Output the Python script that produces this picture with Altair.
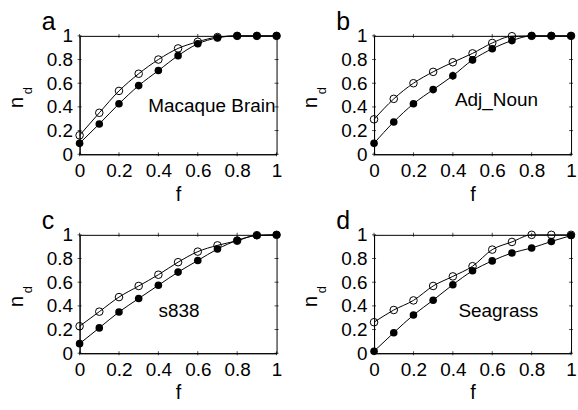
import altair as alt
import pandas as pd

F = [0.0, 0.1, 0.2, 0.3, 0.4, 0.5, 0.6, 0.7, 0.8, 0.9, 1.0]
TICKS = [0, 0.2, 0.4, 0.6, 0.8, 1]

a_open = [0.16, 0.35, 0.535, 0.68, 0.80, 0.894, 0.95, 0.99, 1, 1, 1]
a_filled = [0.092, 0.256, 0.426, 0.58, 0.707, 0.833, 0.933, 0.983, 1, 1, 1]
b_open = [0.295, 0.468, 0.60, 0.696, 0.777, 0.852, 0.94, 0.997, 1, 1, 1]
b_filled = [0.092, 0.273, 0.426, 0.546, 0.663, 0.797, 0.891, 0.96, 1, 1, 1]
b_filled_err = [0, 0, 0, 0, 0.035, 0.03, 0, 0, 0, 0, 0]
c_open = [0.228, 0.351, 0.474, 0.568, 0.663, 0.769, 0.858, 0.911, 0.95, 0.997, 1]
c_filled = [0.081, 0.214, 0.348, 0.462, 0.574, 0.685, 0.783, 0.88, 0.953, 0.994, 1]
d_open = [0.262, 0.365, 0.446, 0.568, 0.649, 0.735, 0.875, 0.94, 1.0, 1.0, 1.0]
d_filled = [0.017, 0.173, 0.323, 0.448, 0.579, 0.696, 0.78, 0.847, 0.889, 0.944, 0.994]

W, H = 198, 119
FONT = "Liberation Sans"
FS = 19

XS = alt.Scale(domain=[0, 1], nice=False, zero=False)
YS = alt.Scale(domain=[0, 1], nice=False, zero=False)
AX_X = alt.Axis(values=TICKS, format="~g", title="f", ticks=False, labelPadding=7, titlePadding=4,
                grid=False, labelOverlap=False, labelFlush=False)
AX_Y = alt.Axis(values=TICKS, format="~g", title="", ticks=False, labelPadding=7,
                grid=False, labelOverlap=False, labelFlush=False)


def X(field):
    return alt.X(field, type="quantitative", scale=XS, axis=AX_X, title="f")


def Y(field):
    return alt.Y(field, type="quantitative", scale=YS, axis=AX_Y, title="")


def text_layer(txt, x, y, size, angle=0, align="center", baseline="middle"):
    return alt.Chart(pd.DataFrame({"t": [txt]})).mark_text(
        font=FONT, fontSize=size, angle=angle, align=align, baseline=baseline, color="black"
    ).encode(text="t:N", x=alt.value(x), y=alt.value(y))


def panel(letter, label, open_vals, filled_vals, lx, ly, err=None):
    df = pd.DataFrame({
        "f": F * 2,
        "nd": list(open_vals) + list(filled_vals),
        "series": ["open"] * len(F) + ["filled"] * len(F),
    })
    base = alt.Chart(df)
    lines = base.mark_line(interpolate="monotone", color="black", strokeWidth=1).encode(
        x=X("f"), y=Y("nd"), detail="series:N")
    opn = base.transform_filter(alt.datum.series == "open").mark_point(
        shape="circle", filled=False, color="black", size=58, strokeWidth=1, opacity=1).encode(
        x=X("f"), y=Y("nd"))
    fil = base.transform_filter(alt.datum.series == "filled").mark_circle(
        color="black", size=58, opacity=1).encode(x=X("f"), y=Y("nd"))
    layers = [lines, opn, fil]
    if err is not None:
        edf = pd.DataFrame({"f": F, "lo": [v - e for v, e in zip(filled_vals, err)],
                            "hi": [v + e for v, e in zip(filled_vals, err)], "e": err})
        layers.append(alt.Chart(edf).transform_filter(alt.datum.e > 0).mark_rule(
            color="black", strokeWidth=1).encode(x=X("f"), y=Y("lo"), y2="hi:Q"))
    tdf = pd.DataFrame({"t": TICKS})
    layers += [
        alt.Chart(tdf).mark_tick(orient="vertical", size=4, thickness=1, color="black").encode(x=X("t"), y=alt.value(H)),
        alt.Chart(tdf).mark_tick(orient="vertical", size=4, thickness=1, color="black").encode(x=X("t"), y=alt.value(0)),
        alt.Chart(tdf).mark_tick(orient="horizontal", size=4, thickness=1, color="black").encode(y=Y("t"), x=alt.value(0)),
        alt.Chart(tdf).mark_tick(orient="horizontal", size=4, thickness=1, color="black").encode(y=Y("t"), x=alt.value(W)),
    ]
    layers += [
        text_layer("n", -63, 67, 20, angle=270),
        text_layer("d", -52, 55, 13, angle=270),
        text_layer(letter, -38, -6, 25, align="left", baseline="alphabetic"),
        text_layer(label, lx, ly, FS),
    ]
    return alt.layer(*layers).properties(width=W, height=H)


pa = panel("a", "Macaque Brain", a_open, a_filled, 133, 71)
pb = panel("b", "Adj_Noun", b_open, b_filled, 123, 64, err=b_filled_err)
pc = panel("c", "s838", c_open, c_filled, 100, 77)
pd_ = panel("d", "Seagrass", d_open, d_filled, 125, 77)

chart = alt.vconcat(
    alt.hconcat(pa, pb, spacing=98, bounds="flush"),
    alt.hconcat(pc, pd_, spacing=98, bounds="flush"),
    spacing=200, bounds="flush",
).properties(
    padding={"left": 6, "top": 8, "right": 0, "bottom": 0},
    background="white",
).configure(font=FONT).configure_view(
    stroke="black", strokeWidth=1
).configure_axis(
    labelFont=FONT, titleFont=FONT, labelFontSize=FS, titleFontSize=20, titleFontWeight="normal",
    labelColor="black", titleColor="black", domainColor="black", domainWidth=1,
    labelOverlap=False, labelFlush=False,
)

chart.save("out.html", embed_options={"renderer": "svg", "actions": False})
